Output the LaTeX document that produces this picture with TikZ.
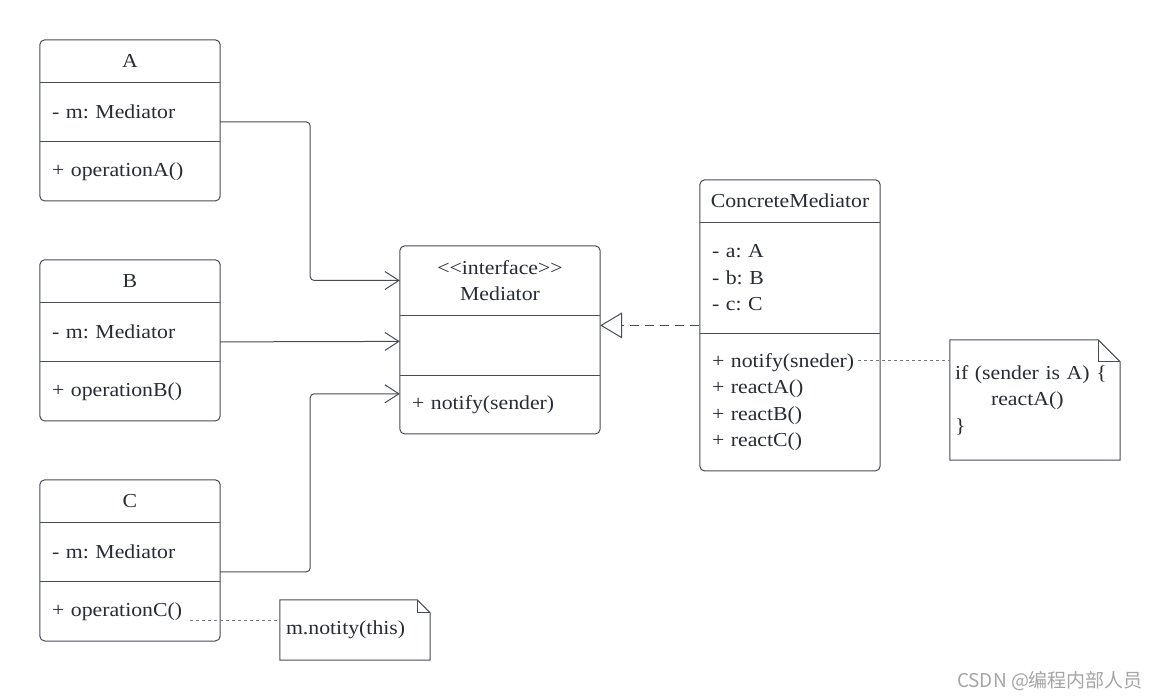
\documentclass[tikz,border=0pt]{standalone}
\usepackage{fontspec}
\setmainfont{Liberation Serif}[FakeStretch=1.1]
\newfontfamily\cjkfont{Noto Sans CJK SC}
\usepackage{tikz}
\usetikzlibrary{arrows.meta,positioning,fit}
\definecolor{umlline}{RGB}{72,76,84}
\definecolor{umltext}{RGB}{40,44,52}
\definecolor{marktext}{RGB}{165,165,165}
\newcommand{\umlfont}{\fontsize{19.8}{26.5}\selectfont}
\frenchspacing
\tikzset{
  headpart/.style={rectangle,inner sep=0pt,text=umltext,font=\umlfont,align=center,minimum width=180pt},
  bodypart/.style={rectangle,inner sep=0pt,text=umltext,font=\umlfont,align=left,minimum width=180pt,text width=156pt},
  classframe/.style={rectangle,rounded corners=5pt,draw=umlline,line width=1pt,inner sep=0pt},
  divider/.style={draw=umlline,line width=1pt},
  notebox/.style={rectangle,inner sep=0pt,text=umltext,font=\umlfont,align=left},
  noteline/.style={draw=umlline,line width=1pt},
  assoc/.style={draw=umlline,line width=1pt,rounded corners=4pt,-{Straight Barb[length=14pt,width=18pt]}},
  realize/.style={draw=umlline,line width=1pt,dash pattern=on 9pt off 6pt,-{Triangle[open,length=22pt,width=26pt,fill=white]}},
  notelink/.style={draw=umlline!75,line width=0.7pt,dash pattern=on 3pt off 3pt}
}

\begin{document}
\begin{tikzpicture}[x=1pt,y=-1pt]
  \fill[white] (0,0) rectangle (1160,700);
  \useasboundingbox (0,0) rectangle (1160,700);

  %% Colleague A
  \node[headpart,minimum height=42pt] (Ahead) at (130,61) {A};
  \node[bodypart,minimum height=59pt,below=0pt of Ahead] (Aattr) {- m: Mediator};
  \node[bodypart,minimum height=59pt,below=0pt of Aattr] (Aops) {+ operationA()};
  \node[classframe,fit=(Ahead)(Aops)] (A) {};
  \draw[divider] (Aattr.north west) -- (Aattr.north east);
  \draw[divider] (Aops.north west) -- (Aops.north east);

  %% Colleague B
  \node[headpart,minimum height=42pt] (Bhead) at (130,281) {B};
  \node[bodypart,minimum height=59pt,below=0pt of Bhead] (Battr) {- m: Mediator};
  \node[bodypart,minimum height=59pt,below=0pt of Battr] (Bops) {+ operationB()};
  \node[classframe,fit=(Bhead)(Bops)] (B) {};
  \draw[divider] (Battr.north west) -- (Battr.north east);
  \draw[divider] (Bops.north west) -- (Bops.north east);

  %% Colleague C
  \node[headpart,minimum height=42pt] (Chead) at (130,501) {C};
  \node[bodypart,minimum height=59pt,below=0pt of Chead] (Cattr) {- m: Mediator};
  \node[bodypart,minimum height=59pt,below=0pt of Cattr] (Cops) {+ operationC()};
  \node[classframe,fit=(Chead)(Cops)] (C) {};
  \draw[divider] (Cattr.north west) -- (Cattr.north east);
  \draw[divider] (Cops.north west) -- (Cops.north east);

  %% Mediator interface
  \node[headpart,minimum width=200pt,minimum height=69pt] (Mhead) at (500,280.5)
    {<\kern0pt<interface>\kern0pt>\\Mediator};
  \node[bodypart,minimum width=200pt,text width=176pt,minimum height=60pt,below=0pt of Mhead] (Mattr) {};
  \node[bodypart,minimum width=200pt,text width=176pt,minimum height=58pt,below=0pt of Mattr] (Mops)
    {+ notify(sender)};
  \node[classframe,fit=(Mhead)(Mops)] (M) {};
  \draw[divider] (Mattr.north west) -- (Mattr.north east);
  \draw[divider] (Mops.north west) -- (Mops.north east);

  %% ConcreteMediator
  \node[headpart,minimum height=42pt] (CMhead) at (790,201) {ConcreteMediator};
  \node[bodypart,minimum height=111pt,below=0pt of CMhead] (CMattr)
    {- a: A\\- b: B\\- c: C};
  \node[bodypart,minimum height=137pt,below=0pt of CMattr] (CMops)
    {+ notify(sneder)\\+ reactA()\\+ reactB()\\+ reactC()};
  \node[classframe,fit=(CMhead)(CMops)] (CM) {};
  \draw[divider] (CMattr.north west) -- (CMattr.north east);
  \draw[divider] (CMops.north west) -- (CMops.north east);

  %% Notes
  \node[notebox,minimum width=170pt,minimum height=120pt,text width=160pt] (ifnote) at (1035,400)
    {if (sender is A) \{\\\hspace*{36pt}reactA()\\\}};
  \draw[noteline] (ifnote.north west) -- ([xshift=-22pt]ifnote.north east)
    -- ([yshift=-22pt]ifnote.north east) -- (ifnote.south east) -- (ifnote.south west) -- cycle;
  \draw[noteline] ([xshift=-22pt]ifnote.north east) |- ([yshift=-22pt]ifnote.north east);

  \node[notebox,minimum width=150pt,minimum height=60pt,text width=138pt] (thisnote) at (355,630)
    {m.notity(this)};
  \draw[noteline] (thisnote.north west) -- ([xshift=-13pt]thisnote.north east)
    -- ([yshift=-13pt]thisnote.north east) -- (thisnote.south east) -- (thisnote.south west) -- cycle;
  \draw[noteline] ([xshift=-13pt]thisnote.north east) |- ([yshift=-13pt]thisnote.north east);

  %% Associations
  \draw[assoc] ([yshift=-10pt]Aattr.east) -- ++(90,0) |- (Mhead.west);
  \draw[assoc] ([yshift=-10pt]Battr.east) -- ([yshift=4pt]Mattr.west);
  \draw[assoc] ([yshift=-20pt]Cattr.east) -- ++(90,0) |- ([yshift=11pt]Mops.west);

  %% Realization
  \coordinate (real) at ([yshift=20pt]Mattr.east);
  \draw[realize] (real -| CM.west) -- (real);

  %% Note links
  \coordinate (sneder) at (858,360);
  \coordinate (opC) at (190,620);
  \draw[notelink] (sneder) -- (sneder -| ifnote.west);
  \draw[notelink] (opC) -- (opC -| thisnote.west);

  %% Watermark
  \node[font=\cjkfont\fontsize{19}{21}\selectfont,text=marktext] (mark) at (1050,681)
    {CSDN @编程内部人员};
\end{tikzpicture}
\end{document}
